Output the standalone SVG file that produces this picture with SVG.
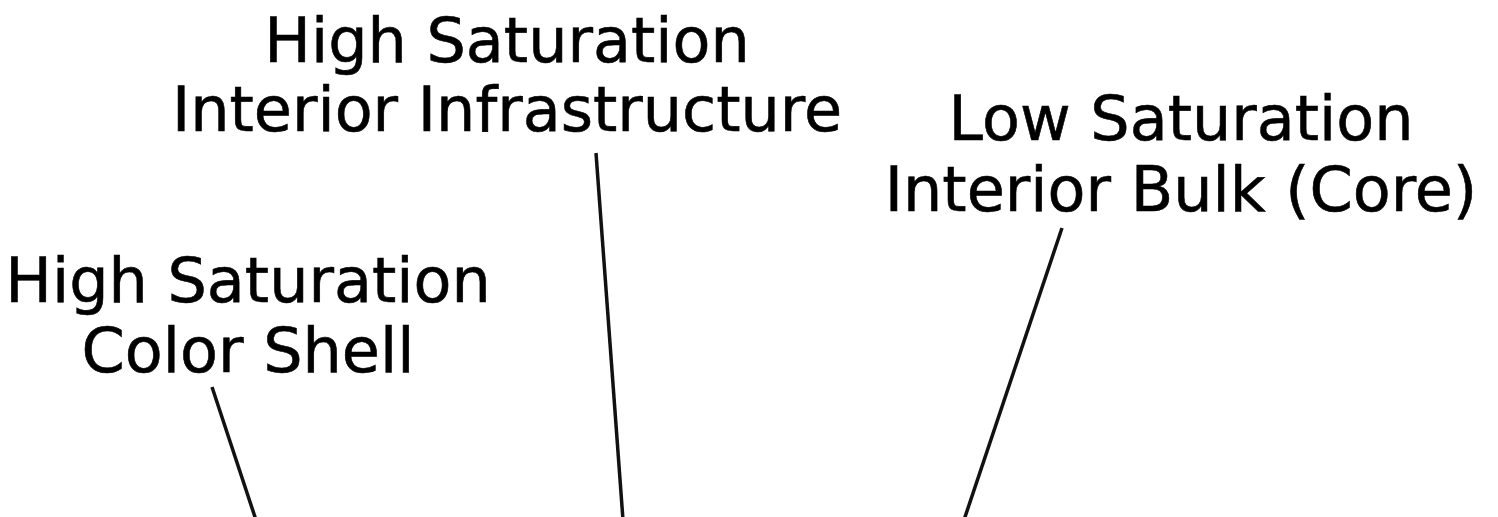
<svg xmlns="http://www.w3.org/2000/svg" width="1498" height="517" viewBox="0 0 1498 517">
<style>
.lbl{font-family:"DejaVu Sans","Verdana",sans-serif;font-size:62px;fill:#000;stroke:#000;stroke-width:0.6;text-anchor:middle}
.ln{stroke:#111;stroke-width:3.5;fill:none}
</style>
<rect width="1498" height="517" fill="#fff"/>
<g id="label-infrastructure">
<text class="lbl" x="507" y="62">High Saturation</text>
<text class="lbl" x="507" y="131">Interior Infrastructure</text>
</g>
<g id="label-core">
<text class="lbl" x="1181" y="140">Low Saturation</text>
<text class="lbl" x="1181" y="211">Interior Bulk (Core)</text>
</g>
<g id="label-shell">
<text class="lbl" x="248" y="302">High Saturation</text>
<text class="lbl" x="248" y="372">Color Shell</text>
</g>
<g id="connectors">
<line class="ln" x1="212" y1="387" x2="256" y2="520"/>
<line class="ln" x1="596" y1="153" x2="623" y2="520"/>
<line class="ln" x1="1062" y1="228" x2="964" y2="520"/>
</g>
</svg>
